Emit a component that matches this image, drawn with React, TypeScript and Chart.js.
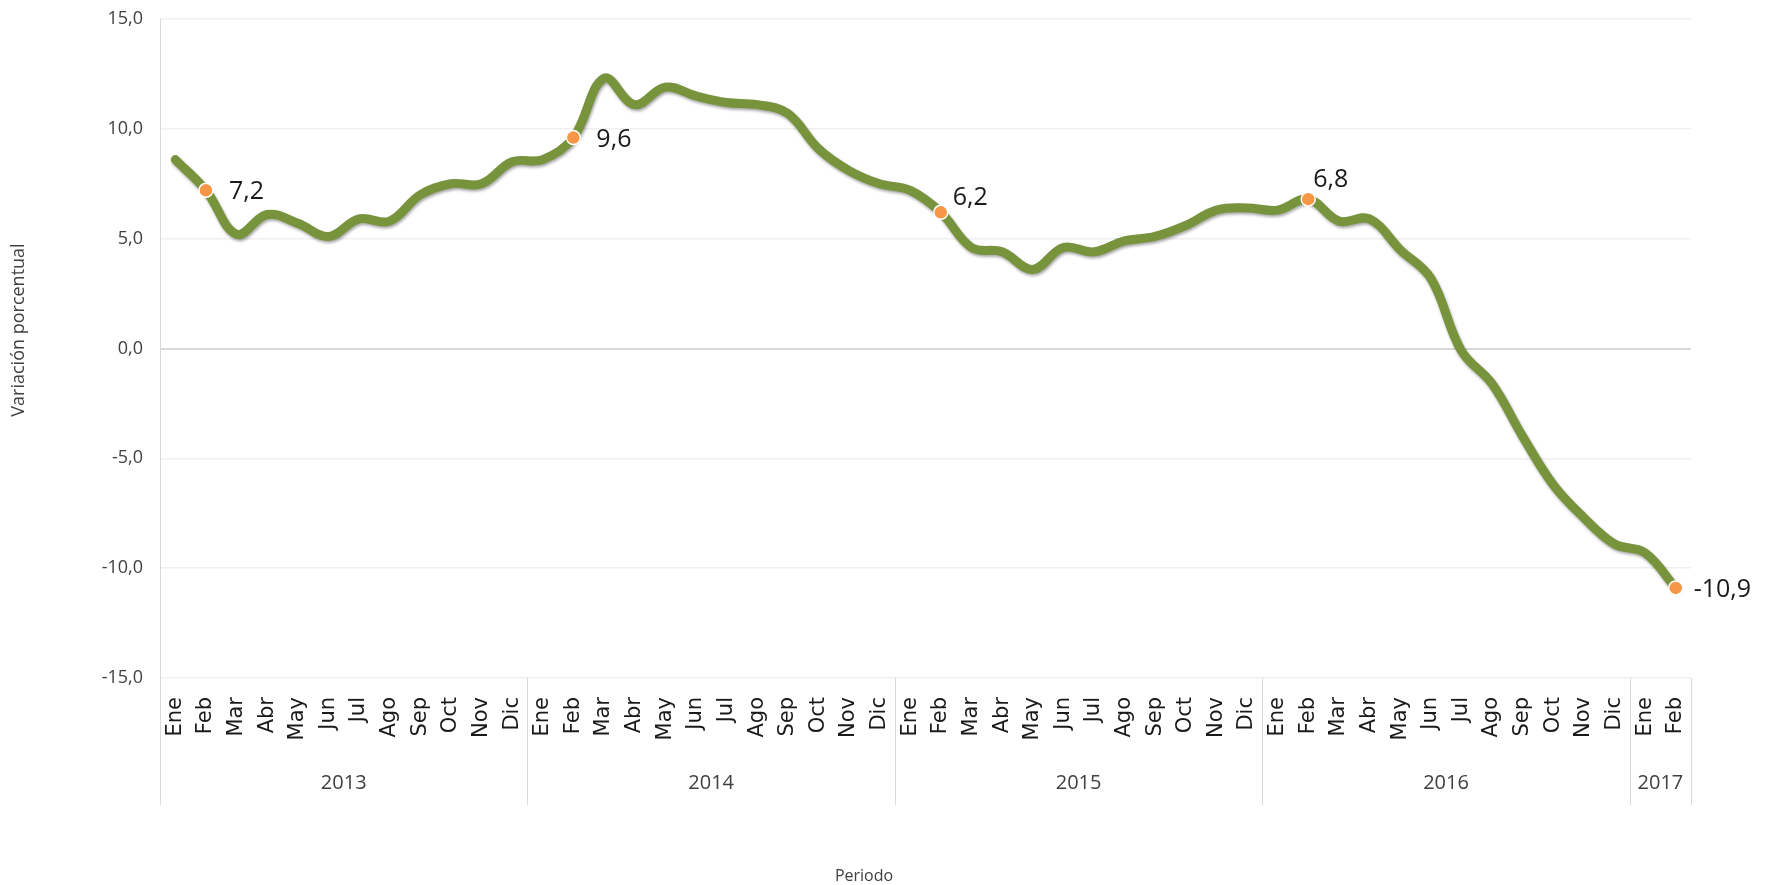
import React, { useEffect, useRef } from 'react';
import { Chart, registerables } from 'chart.js';

Chart.register(...registerables);

// ---- data ----
const years = ['2013', '2014', '2015', '2016', '2017'];
const monthNames = ['Ene', 'Feb', 'Mar', 'Abr', 'May', 'Jun', 'Jul', 'Ago', 'Sep', 'Oct', 'Nov', 'Dic'];
const values2013 = [8.6, 7.2, 5.2, 6.1, 5.7, 5.1, 5.9, 5.8, 7.0, 7.5, 7.5, 8.5];
const values2014 = [8.6, 9.6, 12.3, 11.1, 11.9, 11.5, 11.2, 11.1, 10.7, 9.1, 8.1, 7.5];
const values2015 = [7.2, 6.2, 4.6, 4.4, 3.6, 4.6, 4.4, 4.9, 5.1, 5.6, 6.3, 6.4];
const values2016 = [6.3, 6.8, 5.8, 5.9, 4.5, 3.2, -0.1, -1.6, -4.0, -6.2, -7.7, -8.9];
const values2017 = [-9.3, -10.9];
const seriesByYear = [values2013, values2014, values2015, values2016, values2017];
const highlightMonth = 'Feb';
const yMin = -15;
const yMax = 15;
const yStep = 5;
const yAxisTitle = 'Variación porcentual';
const xAxisTitle = 'Periodo';

// label placement (style), per year
const labelOffsets = [
  [23, 2],
  [23, 2],
  [12, -14],
  [5, -19],
  [18, 2],
];

const labels: string[] = [];
const yearOfIndex: number[] = [];
seriesByYear.forEach((arr, yi) =>
  arr.forEach((_, mi) => {
    labels.push(monthNames[mi]);
    yearOfIndex.push(yi);
  })
);
const values: number[] = seriesByYear.flat();
const highlightValues = values.map((v, i) => (labels[i] === highlightMonth ? v : null));

const fmt = (v: number) => v.toFixed(1).replace('.', ',');

const decorPlugin = {
  id: 'decor',
  beforeDatasetDraw(chart: any, args: any) {
    if (chart.data.datasets[args.index].showLine !== false) {
      const ctx = chart.ctx;
      ctx.save();
      ctx.shadowColor = 'rgba(0,0,0,0.35)';
      ctx.shadowBlur = 3;
      ctx.shadowOffsetX = 1;
      ctx.shadowOffsetY = 2;
    }
  },
  afterDatasetDraw(chart: any, args: any) {
    if (chart.data.datasets[args.index].showLine !== false) {
      chart.ctx.restore();
    }
  },
  afterDatasetsDraw(chart: any) {
    const ctx = chart.ctx;
    const meta = chart.getDatasetMeta(0);
    ctx.save();
    ctx.font = '25px "Open Sans"';
    ctx.fillStyle = '#1a1a1a';
    ctx.textAlign = 'left';
    ctx.textBaseline = 'middle';
    highlightValues.forEach((v, i) => {
      if (v === null) return;
      const pt = meta.data[i];
      const [dx, dy] = labelOffsets[yearOfIndex[i]];
      ctx.fillText(fmt(v), pt.x + dx, pt.y + dy);
    });
    ctx.restore();
  },
  afterDraw(chart: any) {
    const ctx = chart.ctx;
    const area = chart.chartArea;
    const xs = chart.scales.x;
    const sepBottom = 805;
    ctx.save();
    ctx.strokeStyle = '#d9d9d9';
    ctx.lineWidth = 1;
    // left axis line
    ctx.beginPath();
    ctx.moveTo(Math.round(area.left) + 0.5, area.top);
    ctx.lineTo(Math.round(area.left) + 0.5, sepBottom);
    ctx.stroke();
    // year groups
    let start = 0;
    ctx.font = '20px "Open Sans"';
    ctx.fillStyle = '#404040';
    ctx.textAlign = 'center';
    ctx.textBaseline = 'middle';
    seriesByYear.forEach((arr, yi) => {
      const end = start + arr.length - 1;
      const left = start === 0 ? area.left : (xs.getPixelForValue(start - 1) + xs.getPixelForValue(start)) / 2;
      const right =
        yi === seriesByYear.length - 1 ? area.right : (xs.getPixelForValue(end) + xs.getPixelForValue(end + 1)) / 2;
      ctx.beginPath();
      ctx.moveTo(Math.round(right) + 0.5, area.bottom);
      ctx.lineTo(Math.round(right) + 0.5, sepBottom);
      ctx.stroke();
      ctx.fillText(years[yi], (left + right) / 2, 783);
      start = end + 1;
    });
    // axis titles
    ctx.fillStyle = '#404040';
    ctx.font = '16px "Open Sans"';
    ctx.fillText(xAxisTitle, 864, 876);
    ctx.translate(19, 330);
    ctx.rotate(-Math.PI / 2);
    ctx.font = '18px "Open Sans"';
    ctx.fillText(yAxisTitle, 0, 0);
    ctx.restore();
  },
};

export default function App() {
  const canvasRef = useRef<HTMLCanvasElement | null>(null);

  useEffect(() => {
    document.body.style.margin = '0';
    const canvas = canvasRef.current;
    if (!canvas) return;
    const chart = new Chart(canvas, {
      type: 'line',
      data: {
        labels,
        datasets: [
          {
            label: 'Destacados',
            data: highlightValues,
            showLine: false,
            pointRadius: 7,
            pointHoverRadius: 7,
            pointBackgroundColor: '#F79646',
            pointBorderColor: '#ffffff',
            pointBorderWidth: 1.5,
            order: 1,
          },
          {
            label: 'Variación',
            data: values,
            borderColor: '#77933C',
            borderWidth: 9,
            tension: 0.38,
            pointRadius: 0,
            fill: false,
            borderCapStyle: 'round',
            borderJoinStyle: 'round',
            order: 2,
          },
        ],
      },
      options: {
        animation: false,
        responsive: false,
        maintainAspectRatio: false,
        layout: { padding: { top: 19, right: 81, bottom: 0, left: 0 } },
        plugins: { legend: { display: false }, tooltip: { enabled: false } },
        scales: {
          x: {
            type: 'category',
            offset: true,
            grid: { display: false, drawTicks: false },
            border: { display: false },
            ticks: {
              autoSkip: false,
              minRotation: 90,
              maxRotation: 90,
              padding: 19,
              color: '#1a1a1a',
              font: { family: '"DejaVu Sans"', size: 21 },
            },
            afterFit: (scale: any) => {
              scale.height = 207;
              scale.paddingLeft = 0;
              scale.paddingRight = 0;
            },
          },
          y: {
            min: yMin,
            max: yMax,
            border: { display: false },
            grid: {
              drawTicks: false,
              color: (c: any) => (c.tick && c.tick.value === 0 ? '#d9d9d9' : '#f0f0f0'),
              lineWidth: (c: any) => (c.tick && c.tick.value === 0 ? 2 : 1.5),
            },
            ticks: {
              stepSize: yStep,
              padding: 17,
              color: '#404040',
              font: { family: '"Open Sans"', size: 18 },
              callback: (v: any) => fmt(Number(v)),
            },
            afterFit: (scale: any) => {
              scale.width = 160;
              scale.paddingTop = 0;
              scale.paddingBottom = 0;
            },
          },
        },
      },
      plugins: [decorPlugin],
    });
    return () => chart.destroy();
  }, []);

  return (
    <div style={{ position: 'absolute', left: 0, top: 0, width: 1772, height: 885, background: '#fff' }}>
      <canvas ref={canvasRef} width={1772} height={885} style={{ display: 'block' }} />
    </div>
  );
}
